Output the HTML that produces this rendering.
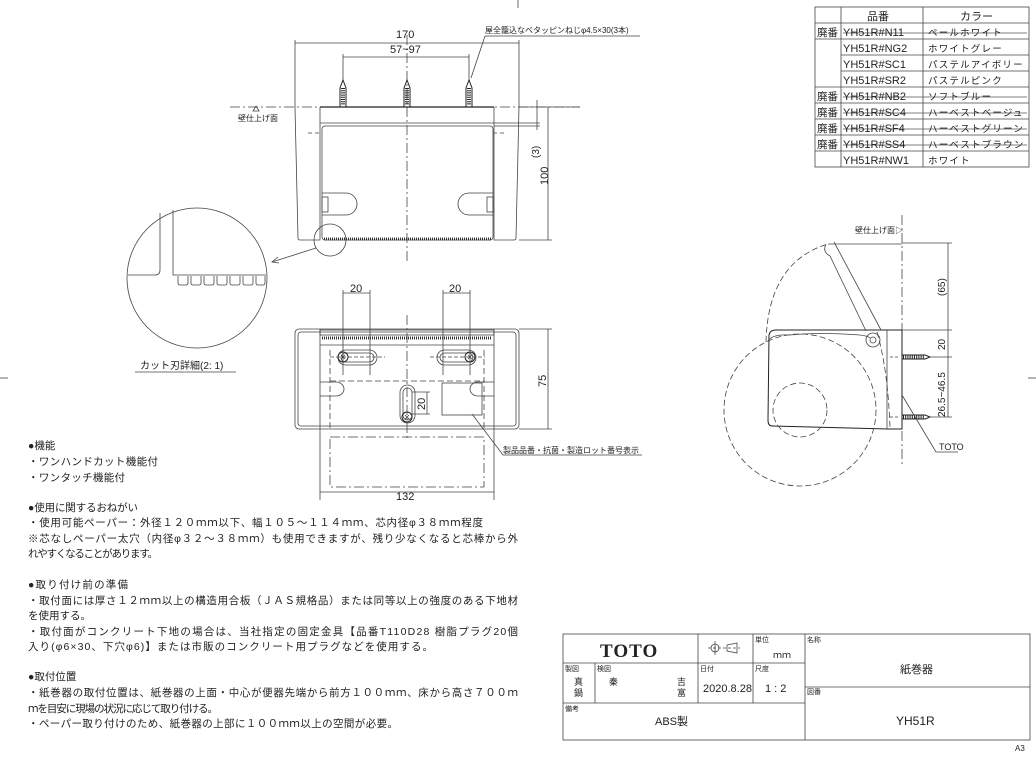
<!DOCTYPE html>
<html><head><meta charset="utf-8"><style>
html,body{margin:0;padding:0;background:#fff;}
svg{display:block;}
text{font-family:"Liberation Sans","Noto Sans CJK JP",sans-serif;fill:#222;}
</style></head><body>
<svg width="1036" height="757" viewBox="0 0 1036 757" xmlns="http://www.w3.org/2000/svg">
<g stroke="#444" stroke-width="0.8" fill="none">
<line x1="518" y1="0" x2="518" y2="8"/><line x1="0" y1="378" x2="8" y2="378"/><line x1="1028" y1="378" x2="1036" y2="378"/>

<!-- table -->
<rect x="815" y="7" width="214" height="160"/>
<line x1="841" y1="7" x2="841" y2="167"/><line x1="923" y1="7" x2="923" y2="167"/>
<line x1="815" y1="23" x2="1029" y2="23"/>
<line x1="815" y1="39" x2="1029" y2="39"/><line x1="841" y1="55" x2="1029" y2="55"/><line x1="841" y1="71" x2="1029" y2="71"/>
<line x1="815" y1="87" x2="1029" y2="87"/><line x1="815" y1="103" x2="1029" y2="103"/><line x1="815" y1="119" x2="1029" y2="119"/><line x1="815" y1="135" x2="1029" y2="135"/><line x1="815" y1="151" x2="1029" y2="151"/>
<g stroke="#555"><line x1="843" y1="33" x2="1027" y2="33"/><line x1="843" y1="97" x2="1027" y2="97"/><line x1="843" y1="113" x2="1027" y2="113"/><line x1="843" y1="129" x2="1027" y2="129"/><line x1="843" y1="145" x2="1027" y2="145"/></g>

<!-- title block -->
<rect x="563" y="634" width="467" height="106"/>
<line x1="805" y1="634" x2="805" y2="740"/>
<line x1="563" y1="663" x2="805" y2="663"/><line x1="563" y1="703" x2="805" y2="703"/>
<line x1="805" y1="687" x2="1030" y2="687"/>
<line x1="698" y1="634" x2="698" y2="703"/><line x1="753" y1="634" x2="753" y2="703"/>
<line x1="595" y1="663" x2="595" y2="703"/>
<circle cx="715" cy="648" r="4"/><line x1="708" y1="648" x2="740" y2="648" stroke-dasharray="3 2"/><line x1="715" y1="641" x2="715" y2="655"/>
<polygon points="727,645 737,643 737,653 727,651"/>

<!-- FRONT VIEW -->
<line x1="230" y1="107" x2="580" y2="107" stroke-dasharray="10 3 2 3"/>
<line x1="407" y1="35" x2="407" y2="262" stroke-dasharray="10 3 2 3"/>
<path d="M295,107 L298,238 Q298,240 300,240 L320,240 L320,107" />
<path d="M519,107 L516,238 Q516,240 514,240 L494,240 L494,107"/>
<line x1="320" y1="107" x2="494" y2="107" stroke="#222" stroke-width="1.2"/>
<line x1="320" y1="123" x2="494" y2="123"/>
<rect x="322" y="126" width="171" height="114" rx="3"/>
<line x1="324" y1="239" x2="491" y2="239" stroke="#333" stroke-width="3" stroke-dasharray="1 1"/>
<path d="M322,193 h24 a11,11 0 0 1 0,22 h-24"/><rect x="322" y="197" width="6" height="15"/>
<path d="M493,193 h-24 a11,11 0 0 0 0,22 h24"/><rect x="487" y="197" width="6" height="15"/>
<line x1="308" y1="133" x2="322" y2="133" stroke-dasharray="4 3"/><line x1="493" y1="133" x2="507" y2="133" stroke-dasharray="4 3"/>
<g stroke="#222" stroke-width="1">
<path d="M340,107 V88 L343,80 L346,88 V107"/><path d="M404,107 V88 L407,80 L410,88 V107"/><path d="M466,107 V88 L469,80 L472,88 V107"/>
</g>
<g stroke="#222" stroke-width="4" stroke-dasharray="1 1.2"><line x1="343" y1="88" x2="343" y2="105"/><line x1="407" y1="88" x2="407" y2="105"/><line x1="469" y1="88" x2="469" y2="105"/></g>
<line x1="295" y1="43" x2="519" y2="43"/><line x1="295" y1="40" x2="295" y2="107"/><line x1="519" y1="40" x2="519" y2="107"/>
<line x1="343" y1="57" x2="469" y2="57"/><line x1="343" y1="54" x2="343" y2="80"/><line x1="469" y1="54" x2="469" y2="80"/>
<line x1="548" y1="107" x2="548" y2="240"/><line x1="519" y1="240" x2="552" y2="240"/><line x1="519" y1="107" x2="580" y2="107"/>
<line x1="537" y1="100" x2="537" y2="130"/><line x1="494" y1="123" x2="540" y2="123"/><line x1="494" y1="126" x2="540" y2="126"/>
<path d="M485,36 L640,36 M485,36 L471,78"/>
<polygon points="253,111 256,106 259,111"/>
<circle cx="330" cy="240" r="16"/>
<line x1="316" y1="248" x2="272" y2="262"/><path d="M278,257 L272,262 L279,263"/>
<circle cx="197" cy="278" r="70"/>
<path d="M160,213 V270 Q160,275 155,275 H128"/>
<path d="M173,210 V275 H266"/>
<g>
<path d="M178,276 v7 q0,2 2,2 h6 q2,0 2,-2 v-7"/><path d="M191,276 v7 q0,2 2,2 h6 q2,0 2,-2 v-7"/><path d="M204,276 v7 q0,2 2,2 h6 q2,0 2,-2 v-7"/><path d="M217,276 v7 q0,2 2,2 h6 q2,0 2,-2 v-7"/><path d="M230,276 v7 q0,2 2,2 h6 q2,0 2,-2 v-7"/><path d="M243,276 v7 q0,2 2,2 h6 q2,0 2,-2 v-7"/><path d="M256,276 v7 q0,2 2,2 h5 q2,0 2,-2 v-7"/>
</g>
<line x1="135" y1="372" x2="236" y2="372"/>

<!-- BOTTOM VIEW -->
<line x1="407" y1="315" x2="407" y2="440" stroke-dasharray="10 3 2 3"/>
<rect x="295" y="329" width="224" height="100" rx="4"/>
<rect x="298" y="332" width="218" height="94" rx="3"/>
<line x1="320" y1="329" x2="320" y2="500"/><line x1="494" y1="329" x2="494" y2="500"/>
<rect x="320" y="330" width="174" height="5"/>
<line x1="322" y1="338" x2="492" y2="338" stroke="#333" stroke-width="3" stroke-dasharray="1 1"/>
<line x1="320" y1="345" x2="494" y2="345"/>
<rect x="338" y="350" width="39" height="15" rx="7.5"/><rect x="341" y="353" width="33" height="9" rx="4.5"/>
<rect x="437" y="350" width="39" height="15" rx="7.5"/><rect x="440" y="353" width="33" height="9" rx="4.5"/>
<rect x="400" y="385" width="15" height="38" rx="7.5"/><rect x="403" y="388" width="9" height="32" rx="4.5"/>
<g stroke="#222" stroke-width="1"><circle cx="343" cy="357" r="5"/><circle cx="470" cy="357" r="5"/><circle cx="407" cy="417" r="5"/></g>
<path d="M341,355 l4,4 M345,355 l-4,4 M468,355 l4,4 M472,355 l-4,4 M405,415 l4,4 M409,415 l-4,4"/>
<line x1="330" y1="357" x2="385" y2="357" stroke-dasharray="4 2"/><line x1="430" y1="357" x2="485" y2="357" stroke-dasharray="4 2"/>
<line x1="330" y1="381" x2="484" y2="381" stroke-dasharray="6 3"/>
<line x1="330" y1="350" x2="330" y2="429" stroke-dasharray="6 3"/><line x1="484" y1="350" x2="484" y2="429" stroke-dasharray="6 3"/>
<path d="M320,382 h16 a8,7 0 0 1 0,14 h-16"/><path d="M494,382 h-16 a8,7 0 0 0 0,14 h16"/>
<rect x="442" y="383" width="40" height="32"/>
<rect x="330" y="437" width="154" height="50" stroke-dasharray="10 3 2 3"/>
<line x1="343" y1="293" x2="370" y2="293"/><line x1="343" y1="290" x2="343" y2="375"/><line x1="370" y1="290" x2="370" y2="375"/>
<line x1="443" y1="293" x2="470" y2="293"/><line x1="443" y1="290" x2="443" y2="375"/><line x1="470" y1="290" x2="470" y2="375"/>
<line x1="427" y1="392" x2="427" y2="414"/><line x1="412" y1="392" x2="430" y2="392"/><line x1="412" y1="414" x2="430" y2="414"/>
<line x1="320" y1="492" x2="494" y2="492"/>
<line x1="548" y1="329" x2="548" y2="429"/><line x1="519" y1="329" x2="552" y2="329"/><line x1="519" y1="429" x2="552" y2="429"/>
<path d="M472,414 L503,455 L642,455"/>

<!-- SIDE VIEW -->
<line x1="902" y1="215" x2="902" y2="465" stroke-dasharray="10 3 2 3"/>
<path d="M769,335 Q770,330 776,330 L902,330 L902,429 L888,429 L772,426 Q768,426 768,420 Z" stroke="#222" stroke-width="1"/>
<line x1="887" y1="330" x2="887" y2="429"/>
<path d="M768,341 Q772,334 790,335 Q820,332 860,335 Q868,336 870,338"/>
<path d="M826,244 Q822,252 830,256 L866,331 M834,242 L881,330"/>
<circle cx="873" cy="340" r="7"/><circle cx="873" cy="340" r="3"/>
<path d="M766,342 Q768,262 828,244" stroke-dasharray="6 3"/>
<path d="M877,332 Q888,370 890,428" stroke-dasharray="6 3"/>
<line x1="828" y1="244" x2="902" y2="244"/>
<circle cx="800" cy="410" r="76" stroke-dasharray="6 3"/>
<circle cx="800" cy="410" r="27" stroke-dasharray="6 3"/>
<g stroke="#222" stroke-width="1"><path d="M902,355 H925 L930,357 L925,359 H902"/><path d="M902,415 H925 L930,417 L925,419 H902"/></g>
<g stroke="#222" stroke-width="4" stroke-dasharray="1 1.2"><line x1="903" y1="357" x2="924" y2="357"/><line x1="903" y1="417" x2="924" y2="417"/></g>
<line x1="890" y1="357" x2="900" y2="357" stroke-dasharray="3 2"/><line x1="890" y1="417" x2="900" y2="417" stroke-dasharray="3 2"/>
<line x1="948" y1="243" x2="948" y2="417"/>
<line x1="902" y1="243" x2="952" y2="243"/><line x1="902" y1="330" x2="952" y2="330"/><line x1="930" y1="357" x2="952" y2="357"/><line x1="930" y1="417" x2="952" y2="417"/>
<path d="M902,395 L936,452 L958,452"/>
</g>

<!-- TEXT -->
<g font-size="10.5">
<text x="867" y="20" font-size="11">品番</text><text x="960" y="20" font-size="11">カラー</text>
<g style="font-family:'Liberation Sans Narrow','Liberation Sans',sans-serif" font-size="11">
<text x="843" y="36">YH51R#N11</text><text x="843" y="52">YH51R#NG2</text><text x="843" y="68">YH51R#SC1</text><text x="843" y="84">YH51R#SR2</text><text x="843" y="100">YH51R#NB2</text><text x="843" y="116">YH51R#SC4</text><text x="843" y="132">YH51R#SF4</text><text x="843" y="148">YH51R#SS4</text><text x="843" y="164">YH51R#NW1</text>
</g>
<text x="817" y="36">廃番</text><text x="817" y="100">廃番</text><text x="817" y="116">廃番</text><text x="817" y="132">廃番</text><text x="817" y="148">廃番</text>
<g font-size="9.5" letter-spacing="1.2"><text x="928" y="36">ペールホワイト</text><text x="928" y="52">ホワイトグレー</text><text x="928" y="68">パステルアイボリー</text><text x="928" y="84">パステルピンク</text><text x="928" y="100">ソフトブルー</text><text x="928" y="116">ハーベストベージュ</text><text x="928" y="132">ハーベストグリーン</text><text x="928" y="148">ハーベストブラウン</text><text x="928" y="164">ホワイト</text></g>

<text x="396" y="38" font-size="11">170</text>
<text x="390" y="53" font-size="11">57~97</text>
<text x="485" y="33" font-size="8">屋全籠込なベタッピンねじφ4.5×30(3本)</text>
<text x="238" y="121" font-size="8">壁仕上げ面</text>
<text transform="translate(548,185) rotate(-90)" font-size="11">100</text>
<text transform="translate(539,158) rotate(-90)" font-size="10">(3)</text>
<text x="140" y="369" font-size="10">カット刃詳細(2: 1)</text>
<text x="350" y="292" font-size="11">20</text><text x="449" y="292" font-size="11">20</text>
<text transform="translate(425,410) rotate(-90)" font-size="11">20</text>
<text transform="translate(546,387) rotate(-90)" font-size="11">75</text>
<text x="396" y="500" font-size="11">132</text>
<text x="503" y="453" font-size="8">製品品番・抗菌・製造ロット番号表示</text>
<text x="855" y="233" font-size="8">壁仕上げ面▷</text>
<text transform="translate(945,296) rotate(-90)" font-size="10">(65)</text>
<text transform="translate(945,350) rotate(-90)" font-size="10">20</text>
<text transform="translate(945,417) rotate(-90)" font-size="10">26.5~46.5</text>
<text x="939" y="450" font-size="9">TOTO</text>

<g font-size="10.5">
<text x="28" y="449">●機能</text>
<text x="28" y="465" textLength="130" lengthAdjust="spacing">・ワンハンドカット機能付</text>
<text x="28" y="481" textLength="97" lengthAdjust="spacing">・ワンタッチ機能付</text>
<text x="28" y="511" textLength="110" lengthAdjust="spacing">●使用に関するおねがい</text>
<text x="28" y="526" textLength="455" lengthAdjust="spacing">・使用可能ペーパー：外径１２０ｍｍ以下、幅１０５～１１４ｍｍ、芯内径φ３８ｍｍ程度</text>
<text x="28" y="542" textLength="490" lengthAdjust="spacing">※芯なしペーパー太穴（内径φ３２～３８ｍｍ）も使用できますが、残り少なくなると芯棒から外</text>
<text x="28" y="557" textLength="130" lengthAdjust="spacing">れやすくなることがあります。</text>
<text x="28" y="588" textLength="100" lengthAdjust="spacing">●取り付け前の準備</text>
<text x="28" y="604" textLength="490" lengthAdjust="spacing">・取付面には厚さ１２ｍｍ以上の構造用合板（ＪＡＳ規格品）または同等以上の強度のある下地材</text>
<text x="28" y="619" textLength="63" lengthAdjust="spacing">を使用する。</text>
<text x="28" y="635" textLength="490" lengthAdjust="spacing">・取付面がコンクリート下地の場合は、当社指定の固定金具【品番T110D28 樹脂プラグ20個</text>
<text x="28" y="650" textLength="405" lengthAdjust="spacing">入り(φ6×30、下穴φ6)】または市販のコンクリート用プラグなどを使用する。</text>
<text x="28" y="680">●取付位置</text>
<text x="28" y="696" textLength="490" lengthAdjust="spacing">・紙巻器の取付位置は、紙巻器の上面・中心が便器先端から前方１００ｍｍ、床から高さ７００ｍ</text>
<text x="28" y="712" textLength="190" lengthAdjust="spacing">ｍを目安に現場の状況に応じて取り付ける。</text>
<text x="28" y="727" textLength="370" lengthAdjust="spacing">・ペーパー取り付けのため、紙巻器の上部に１００ｍｍ以上の空間が必要。</text>
</g>

<text x="600" y="657" style="font-family:'Liberation Serif',serif;font-weight:bold" font-size="19" letter-spacing="1">TOTO</text>
<text x="755" y="642" font-size="7">単位</text><text x="773" y="658" font-size="9">ｍｍ</text>
<text x="807" y="642" font-size="7">名称</text>
<text x="900" y="673" font-size="11">紙巻器</text>
<text x="565" y="671" font-size="7">製図</text><text x="597" y="671" font-size="7">検図</text>
<text x="700" y="671" font-size="7">日付</text><text x="755" y="671" font-size="7">尺度</text>
<text x="574" y="685" font-size="9">真</text><text x="574" y="696" font-size="9">鍋</text>
<text x="609" y="685" font-size="9">秦</text>
<text x="677" y="685" font-size="9">吉</text><text x="677" y="696" font-size="9">富</text>
<text x="703" y="692" font-size="11">2020.8.28</text>
<text x="765" y="692" font-size="11">1 : 2</text>
<text x="807" y="694" font-size="7">図番</text>
<text x="565" y="711" font-size="7">備考</text>
<text x="655" y="725" font-size="11">ABS製</text>
<text x="896" y="725" font-size="12">YH51R</text>
<text x="1015" y="751" font-size="8" fill="#666">A3</text>
</g>
</svg>
</body></html>
